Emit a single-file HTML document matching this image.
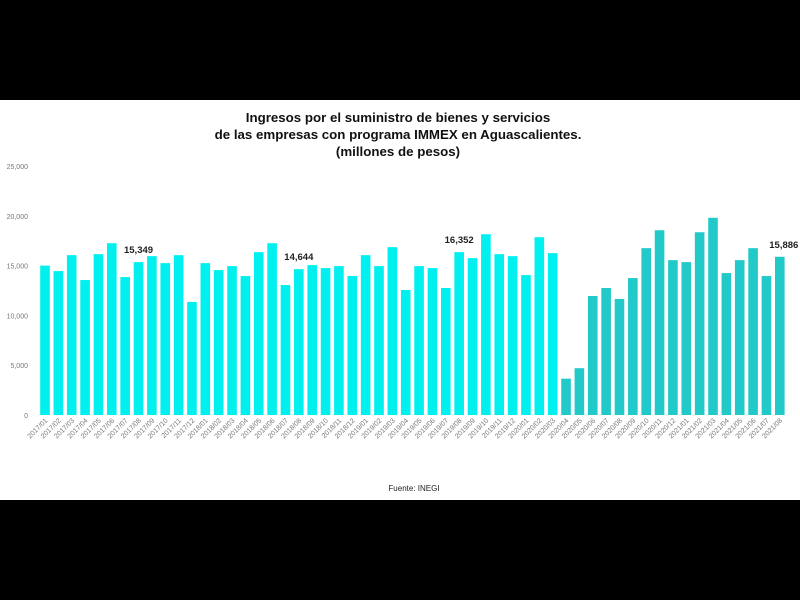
<!DOCTYPE html>
<html><head><meta charset="utf-8"><style>
html,body{margin:0;padding:0;background:#000;width:800px;height:600px;overflow:hidden}
svg{display:block}
</style></head><body>
<svg id="s" width="800" height="600" xmlns="http://www.w3.org/2000/svg" font-family="Liberation Sans, sans-serif">
<rect x="0" y="0" width="800" height="600" fill="#000"/>
<rect x="0" y="100" width="800" height="400" fill="#fff"/>
<g font-weight="bold" font-size="13.3" text-anchor="middle" fill="#111">
<text x="398" y="122">Ingresos por el suministro de bienes y servicios</text>
<text x="398" y="139">de las empresas con programa IMMEX en Aguascalientes.</text>
<text x="398" y="156">(millones de pesos)</text>
</g>
<text x="414" y="491" font-size="8" text-anchor="middle" fill="#222">Fuente: INEGI</text>
<g id="g"></g>
</svg>
<script>
var v=[15000,14450,16050,13550,16150,17250,13850,15349,15950,15250,16050,11350,
15250,14550,14950,13950,16350,17250,13050,14644,15050,14750,14950,13950,
16050,14950,16850,12550,14950,14750,12750,16352,15750,18150,16150,15950,
14050,17850,16250,3650,4700,11950,12750,11650,13750,16750,18550,15550,15350,18350,19800,14250,15550,16750,13950,15886];
var s='',y0=415,k=249/25000;
for(var t=0;t<=25000;t+=5000){s+='<text x="28" y="'+(y0-t*k+3)+'" font-size="7" text-anchor="end" fill="#777">'+(t?t.toLocaleString('en-US'):'0')+'</text>';}
for(var i=0;i<v.length;i++){
 var cx=45+i*13.36,h=v[i]*k;
 s+='<rect x="'+(cx-4.8)+'" y="'+(y0-h)+'" width="9.6" height="'+h+'" fill="'+(i>=39?'#22c9c9':'#00f0f0')+'"/>';
 var yr=2017+Math.floor(i/12),m=i%12+1;
 var lab=yr+'/'+(m<10?'0':'')+m;
 s+='<text transform="translate('+(cx+3)+','+(y0+6)+') rotate(-45)" font-size="7" text-anchor="end" fill="#777">'+lab+'</text>';
}
var L=[[7,'15,349'],[19,'14,644'],[31,'16,352'],[55,'15,886']];
L.forEach(function(a){var cx=45+a[0]*13.36;s+='<text x="'+(cx+(a[0]==55?4:0))+'" y="'+(y0-v[a[0]]*k-9)+'" font-size="9.5" font-weight="bold" text-anchor="middle" fill="#222">'+a[1]+'</text>';});
document.getElementById('g').innerHTML=s;
</script>
</body></html>
